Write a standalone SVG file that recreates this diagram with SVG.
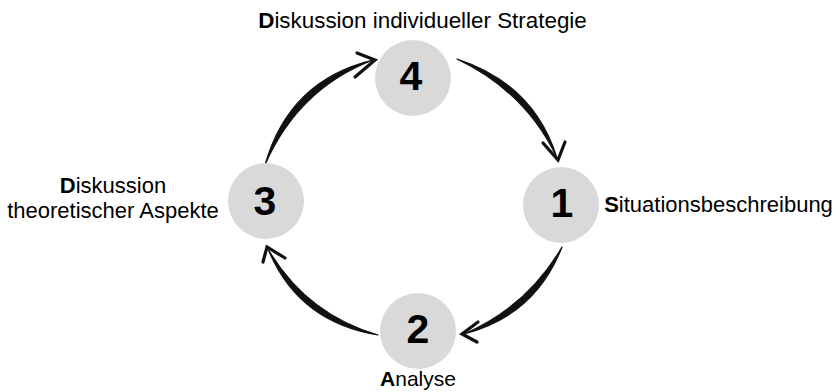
<svg xmlns="http://www.w3.org/2000/svg" width="838" height="392" viewBox="0 0 838 392">
  <style>
    .node { fill: #d9d9d9; }
    .num { font-family: "Liberation Sans", Arial, sans-serif; font-size: 41px; font-weight: bold; fill: #000; text-anchor: middle; }
    .lbl { font-family: "Liberation Sans", Arial, sans-serif; font-size: 22px; fill: #000; text-anchor: middle; }
    .lbl .b { font-weight: bold; }
    .stroke { fill: #111; stroke: #111; stroke-width: 1.2; stroke-linejoin: round; }
    .head { fill: none; stroke: #111; stroke-width: 3.2; stroke-linecap: round; stroke-linejoin: miter; }
  </style>

  <!-- connectors: brush-like curved arrows around the cycle -->
  <g id="connectors">
    <!-- 4 -> 1 -->
    <path class="stroke" d="M457,59 Q534,84 557,158 Q526,92 457,59 Z"/>
    <polyline class="head" points="543,143 558,160 565,142"/>
    <!-- 1 -> 2 -->
    <path class="stroke" d="M562,247 Q535,316 464,334 Q527,307 562,247 Z"/>
    <polyline class="head" points="478,322 462,334 477,342"/>
    <!-- 2 -> 3 -->
    <path class="stroke" d="M378,335 Q298,322 268,249 Q306,314 378,335 Z"/>
    <polyline class="head" points="263,262 267,247 285,258"/>
    <!-- 3 -> 4 -->
    <path class="stroke" d="M265,165 Q289,80 373,60 Q298,89 265,165 Z"/>
    <polyline class="head" points="357,53 375,60 355,77"/>
  </g>

  <g id="node-4">
    <circle class="node" cx="413" cy="78" r="38"/>
    <text class="num" x="411" y="90">4</text>
    <text class="lbl" x="422.5" y="28" style="font-size:22.4px"><tspan class="b">D</tspan>iskussion individueller Strategie</text>
  </g>

  <g id="node-1">
    <circle class="node" cx="561" cy="205" r="38"/>
    <text class="num" x="562" y="217">1</text>
    <text class="lbl" x="718.5" y="212"><tspan class="b">S</tspan>ituationsbeschreibung</text>
  </g>

  <g id="node-2">
    <circle class="node" cx="418" cy="331" r="38"/>
    <text class="num" x="418" y="343">2</text>
    <text class="lbl" x="418" y="386" style="font-size:21px"><tspan class="b">A</tspan>nalyse</text>
  </g>

  <g id="node-3">
    <circle class="node" cx="266" cy="201" r="38"/>
    <text class="num" x="265" y="215">3</text>
    <text class="lbl" x="113" y="193"><tspan class="b">D</tspan>iskussion</text>
    <text class="lbl" x="113" y="218">theoretischer Aspekte</text>
  </g>
</svg>
